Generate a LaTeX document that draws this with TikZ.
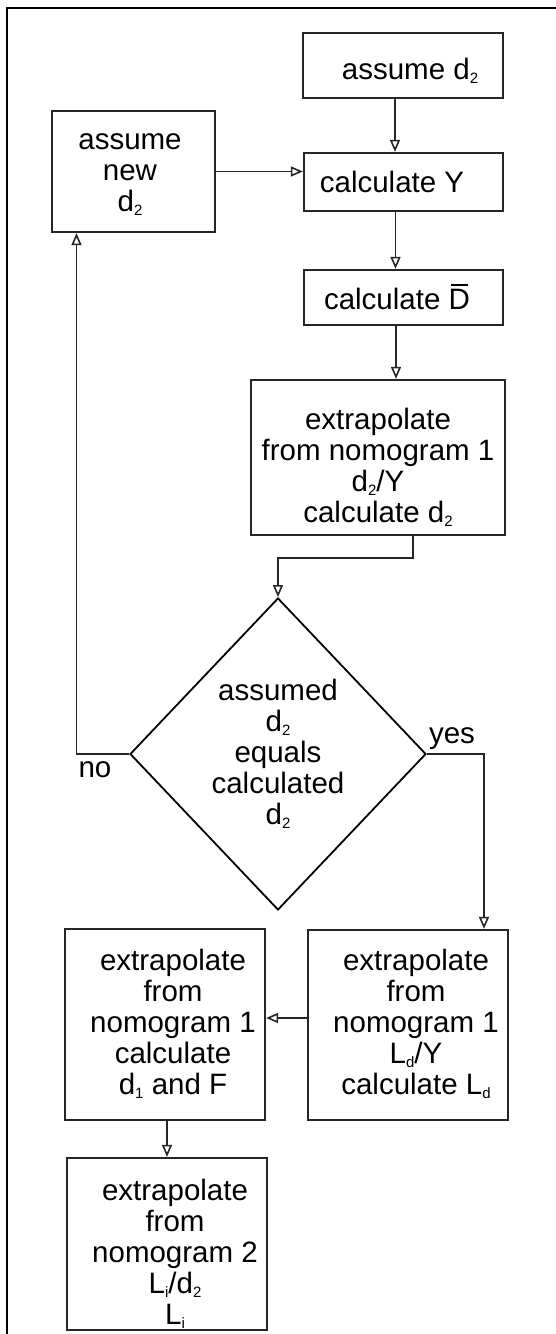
\documentclass[tikz,border=0pt]{standalone}
\usepackage{fontspec}
\setmainfont{Liberation Sans}
\usetikzlibrary{shapes.geometric,arrows.meta}
\newcommand\sbs[1]{\raisebox{-4pt}{\fontsize{15}{15}\selectfont #1}}
\newcommand\Dbar{\makebox[0pt][l]{\hspace{2.5pt}\raisebox{23.5pt}{\rule{17pt}{1.6pt}}}D}
\newcommand\fs{\fontsize{29.5}{31}\selectfont}
\begin{document}
\begin{tikzpicture}[x=1pt,y=-1pt,
  box/.style={draw=black!85, line width=2.3pt, inner sep=0pt},
  txt/.style={align=center, inner sep=0pt, font=\fs},
  arr/.style={draw=black!85, line width=1.9pt, -{Triangle[open,length=12pt,width=10pt,line width=1.6pt]}},
  ln/.style={draw=black!85, line width=1.9pt}]
\useasboundingbox (0,0) rectangle (556,1334);
\draw[line width=2.4pt] (556,8) -- (7,8) -- (7,1334);
% boxes
\node[box, minimum width=200pt, minimum height=65pt] (a1) at (403,65.5) {};
\node[box, minimum width=199pt, minimum height=58pt] (a2) at (403.5,182) {};
\node[box, minimum width=163pt, minimum height=121pt] (nw) at (133.5,171.5) {};
\node[box, minimum width=199pt, minimum height=55pt] (db) at (403.5,297.5) {};
\node[box, minimum width=254pt, minimum height=155pt] (e1) at (378,457.5) {};
\node[draw=black, line width=1.8pt, diamond, minimum width=296pt, minimum height=312pt, inner sep=0pt, align=center, font=\fs] (dia) at (278,754) {assumed\\d\sbs{2}\\equals\\calculated\\d\sbs{2}};
\node[box, minimum width=200pt, minimum height=190pt] (ld) at (408,1025) {};
\node[box, minimum width=200pt, minimum height=191pt] (df) at (165,1024.5) {};
\node[box, minimum width=200pt, minimum height=172pt] (bt) at (167,1244) {};
% texts
\node[txt] (t1) at (410,71) {assume d\sbs{2}};
\node[txt] (t2) at (392,182) {calculate Y};
\node[txt] (t3) at (130,175) {assume\\new\\d\sbs{2}};
\node[txt] (t4) at (397,297) {calculate \Dbar};
\node[txt] (t5) at (378,467) {extrapolate\\from nomogram 1\\d\sbs{2}/Y\\calculate d\sbs{2}};
\node[txt] (t6) at (173,1024) {extrapolate\\from\\nomogram 1\\calculate\\d\sbs{1} and F};
\node[txt] (t7) at (416,1024) {extrapolate\\from\\nomogram 1\\L\sbs{d}/Y\\calculate L\sbs{d}};
\node[txt] (t8) at (175,1254) {extrapolate\\from\\nomogram 2\\L\sbs{i}/d\sbs{2}\\L\sbs{i}};
% connectors
\draw[arr] ([xshift=-8pt]a1.south) -- ([xshift=-8pt]a1.south |- a2.north);
\draw[arr] ([xshift=-8pt]a2.south) -- ([xshift=-8pt]a2.south |- db.north);
\draw[arr] ([xshift=-7.5pt]db.south) -- ([xshift=-7.5pt]db.south |- e1.north);
\draw[arr] (nw.east) -- (nw.east -| a2.west);
\draw[arr] ([xshift=35pt]e1.south) -- ++(0,22) -| (dia.north);
\draw[arr] (dia.west) -| ([xshift=-57pt]nw.south);
\draw[arr] (dia.east) -| ([xshift=76pt]ld.north);
\draw[arr] ([yshift=7pt]ld.west) -- ([yshift=7pt]ld.west -| df.east);
\draw[arr] ([xshift=2pt]df.south) -- ([xshift=2pt]df.south |- bt.north);
% labels
\node[txt] (no) at (95,770) {no};
\node[txt] (yes) at (452,739) {yes};
\end{tikzpicture}
\end{document}
